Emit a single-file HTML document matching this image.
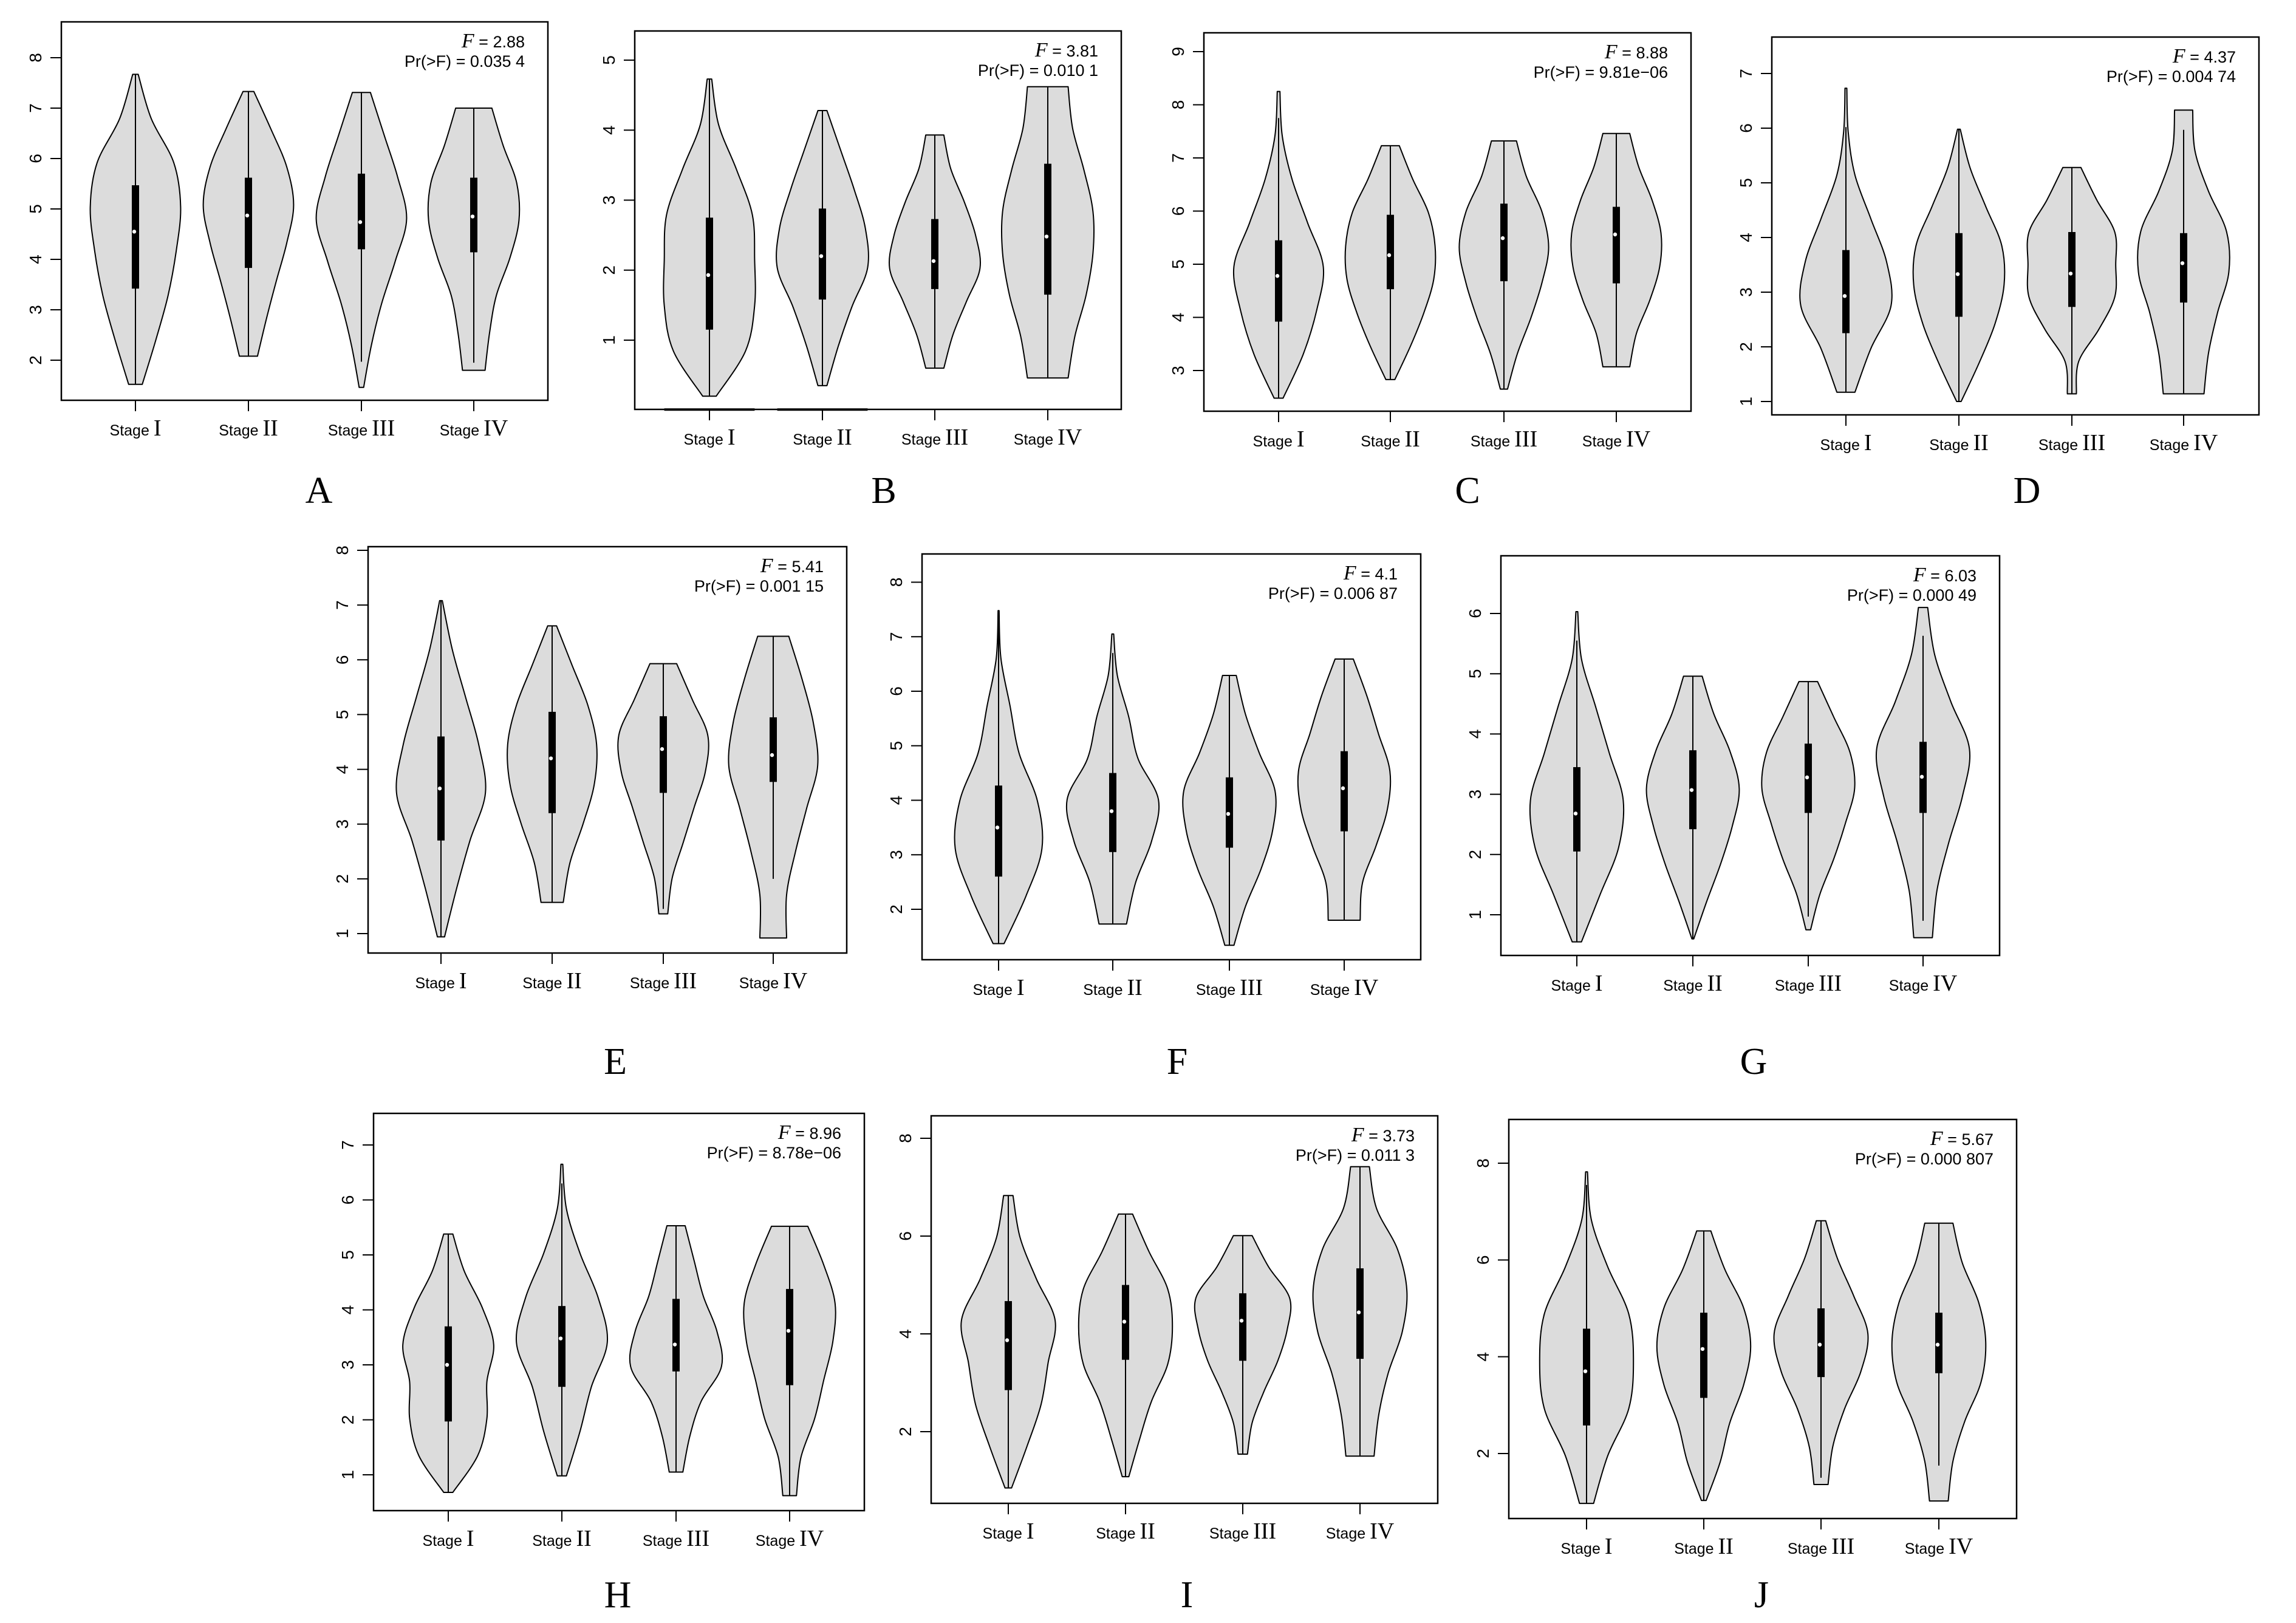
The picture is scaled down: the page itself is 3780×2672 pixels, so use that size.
<!DOCTYPE html>
<html>
<head>
<meta charset="utf-8">
<style>
  html, body { margin: 0; padding: 0; background: #ffffff; }
  svg { display: block; }
  .sans { font-family: "Liberation Sans", Arial, sans-serif; }
  .serif { font-family: "Liberation Serif", "Times New Roman", serif; }
</style>
</head>
<body>
<svg id="fig" xmlns="http://www.w3.org/2000/svg" width="3780" height="2672" viewBox="0 0 3780 2672"></svg>
<script>
// ---------- Data ----------
const panelLetters = ["A","B","C","D","E","F","G","H","I","J"];
const stageNames = ["I","II","III","IV"];
const fValues = ["2.88","3.81","8.88","4.37","5.41","4.1","6.03","8.96","3.73","5.67"];
const pValues = ["0.035 4","0.010 1","9.81e\u221206","0.004 74","0.001 15","0.006 87","0.000 49","8.78e\u221206","0.011 3","0.000 807"];
const tickLabels = [
  [2,3,4,5,6,7,8],[1,2,3,4,5],[3,4,5,6,7,8,9],[1,2,3,4,5,6,7],[1,2,3,4,5,6,7,8],
  [2,3,4,5,6,7,8],[1,2,3,4,5,6],[1,2,3,4,5,6,7],[2,4,6,8],[2,4,6,8]
];
const mins = [
  [1.52,2.08,1.46,1.8],[0.2,0.35,0.6,0.46],[2.48,2.83,2.65,3.07],[1.17,1.0,1.14,1.14],[0.94,1.57,1.36,0.92],
  [1.37,1.73,1.34,1.8],[0.55,0.6,0.75,0.62],[0.68,0.98,1.05,0.62],[0.85,1.08,1.54,1.5],[0.97,1.03,1.36,1.02]
];
const maxs = [
  [7.67,7.33,7.31,7.0],[4.73,4.28,3.93,4.62],[8.25,7.23,7.32,7.46],[6.73,5.98,5.28,6.33],[7.08,6.62,5.93,6.43],
  [7.48,7.05,6.29,6.59],[6.03,4.96,4.87,6.1],[5.38,6.65,5.53,5.52],[6.83,6.45,6.01,7.42],[7.82,6.6,6.81,6.76]
];
const q1s = [
  [3.42,3.83,4.2,4.14],[1.15,1.58,1.73,1.65],[3.92,4.53,4.68,4.64],[2.25,2.55,2.73,2.81],[2.7,3.2,3.57,3.77],
  [2.6,3.05,3.13,3.43],[2.05,2.42,2.69,2.69],[1.97,2.6,2.88,2.63],[2.85,3.47,3.45,3.49],[2.58,3.15,3.58,3.66]
];
const q3s = [
  [5.47,5.62,5.7,5.62],[2.75,2.88,2.73,3.52],[5.45,5.93,6.14,6.08],[3.77,4.08,4.1,4.08],[4.6,5.05,4.97,4.95],
  [4.27,4.5,4.42,4.9],[3.45,3.73,3.84,3.87],[3.7,4.07,4.2,4.38],[4.67,5.0,4.83,5.34],[4.58,4.91,5.0,4.91]
];
const medians = [
  [4.55,4.87,4.74,4.85],[1.93,2.2,2.13,2.48],[4.78,5.17,5.49,5.56],[2.93,3.33,3.34,3.53],[3.65,4.2,4.37,4.26],
  [3.5,3.8,3.75,4.22],[2.68,3.07,3.28,3.29],[3.0,3.48,3.37,3.62],[3.87,4.25,4.27,4.44],[3.7,4.16,4.25,4.25]
];
const whiskerLo = [
  [1.52,2.08,1.97,1.95],[0.2,0.35,0.6,0.46],[2.48,2.83,2.65,3.07],[1.17,1.0,1.14,1.14],[0.94,1.57,1.45,2.0],
  [1.37,1.73,1.34,1.8],[0.55,0.6,0.97,0.9],[0.68,0.98,1.05,0.62],[0.85,1.08,1.54,1.5],[0.97,1.03,1.5,1.75]
];
const whiskerHi = [
  [7.67,7.33,7.31,7.0],[4.73,4.28,3.93,4.62],[7.75,7.23,7.32,7.46],[6.02,5.98,5.28,5.97],[7.08,6.62,5.93,6.43],
  [7.48,6.7,6.29,6.59],[5.55,4.96,4.87,5.63],[5.38,6.3,5.53,5.52],[6.83,6.45,6.01,7.42],[7.55,6.6,6.81,6.76]
];
// relative density widths at 8 evenly spaced levels from min to max
const profiles = [
  [[0.15,0.45,0.72,0.9,1.0,0.85,0.35,0.06],[0.2,0.4,0.62,0.85,1.0,0.85,0.5,0.12],[0.05,0.22,0.45,0.75,1.0,0.8,0.5,0.2],[0.25,0.35,0.5,0.8,1.0,0.95,0.65,0.4]],
  [[0.15,0.8,1.0,1.0,0.95,0.6,0.2,0.05],[0.1,0.35,0.65,1.0,0.95,0.7,0.4,0.1],[0.2,0.4,0.7,1.0,0.9,0.65,0.35,0.2],[0.45,0.6,0.85,1.0,1.0,0.8,0.55,0.45]],
  [[0.1,0.55,0.85,1.0,0.65,0.3,0.08,0.03],[0.1,0.45,0.75,0.97,1.0,0.85,0.5,0.2],[0.08,0.3,0.6,0.85,1.0,0.85,0.5,0.28],[0.3,0.45,0.75,0.97,1.0,0.8,0.5,0.3]],
  [[0.2,0.55,1.0,0.9,0.55,0.2,0.05,0.02],[0.05,0.45,0.8,1.0,0.95,0.6,0.25,0.03],[0.1,0.15,0.6,0.95,0.97,0.95,0.55,0.2],[0.45,0.55,0.75,1.0,0.95,0.55,0.25,0.2]],
  [[0.08,0.35,0.65,1.0,0.85,0.55,0.25,0.03],[0.25,0.4,0.7,0.95,1.0,0.8,0.45,0.1],[0.1,0.2,0.45,0.7,0.95,1.0,0.65,0.3],[0.3,0.3,0.5,0.75,1.0,0.9,0.65,0.35]],
  [[0.12,0.6,0.95,0.85,0.45,0.25,0.05,0.01],[0.3,0.5,0.85,1.0,0.55,0.35,0.1,0.02],[0.1,0.35,0.7,0.95,1.0,0.65,0.35,0.15],[0.35,0.4,0.7,0.95,1.0,0.75,0.5,0.2]],
  [[0.1,0.5,0.9,1.0,0.7,0.4,0.1,0.02],[0.02,0.3,0.6,0.85,1.0,0.8,0.45,0.2],[0.05,0.25,0.55,0.8,1.0,0.9,0.55,0.2],[0.2,0.3,0.55,0.85,1.0,0.6,0.25,0.1]],
  [[0.1,0.65,0.85,0.85,1.0,0.75,0.35,0.1],[0.1,0.4,0.65,1.0,0.8,0.4,0.1,0.02],[0.15,0.3,0.55,1.0,0.9,0.6,0.4,0.2],[0.15,0.25,0.55,0.75,0.95,1.0,0.75,0.4]],
  [[0.07,0.4,0.7,0.85,1.0,0.6,0.25,0.1],[0.07,0.3,0.55,0.9,1.0,0.9,0.5,0.15],[0.1,0.2,0.45,0.75,0.95,1.0,0.55,0.2],[0.3,0.4,0.6,0.9,1.0,0.8,0.35,0.2]],
  [[0.15,0.45,0.9,1.0,0.9,0.45,0.1,0.02],[0.05,0.35,0.55,0.85,1.0,0.85,0.45,0.15],[0.15,0.25,0.5,0.85,1.0,0.7,0.35,0.1],[0.2,0.3,0.55,0.9,1.0,0.85,0.5,0.3]]
];
// panel B: degenerate zero-valued groups drawn as flat lines at 0
const zeroLineStages = [[],[0,1],[],[],[],[],[],[],[],[]];

// ---------- Layout (pixel geometry, not data) ----------
const layout = [
  {L:101,T:36,R:902,B:659, v0:8,p0:95, v1:2,p1:593, sx:[223,409,595,780], lx:525, ly:828},
  {L:1045,T:51,R:1846,B:674, v0:5,p0:99, v1:1,p1:560, sx:[1168,1354,1539,1725], lx:1455, ly:828},
  {L:1982,T:54,R:2784,B:677, v0:9,p0:85, v1:3,p1:610, sx:[2105,2289,2476,2661], lx:2416, ly:828},
  {L:2917,T:61,R:3719,B:683, v0:7,p0:121, v1:1,p1:661, sx:[3039,3225,3411,3595], lx:3337, ly:828},
  {L:606,T:900,R:1394,B:1569, v0:8,p0:906, v1:1,p1:1537, sx:[726,909,1092,1273], lx:1013, ly:1768},
  {L:1518,T:912,R:2339,B:1580, v0:8,p0:958.5, v1:2,p1:1497, sx:[1644,1832,2024,2213], lx:1938, ly:1768},
  {L:2471,T:915,R:3292,B:1573, v0:6,p0:1010, v1:1,p1:1506, sx:[2596,2787,2977,3166], lx:2887, ly:1768},
  {L:615,T:1833,R:1423,B:2487, v0:7,p0:1885, v1:1,p1:2428, sx:[738,925,1113,1300], lx:1017, ly:2646},
  {L:1533,T:1837,R:2367,B:2475, v0:8,p0:1874, v1:2,p1:2357, sx:[1660,1853,2046,2239], lx:1954, ly:2646},
  {L:2484,T:1843,R:3320,B:2500, v0:8,p0:1915, v1:2,p1:2393, sx:[2612,2805,2998,3192], lx:2900, ly:2646}
];

const NS = "http://www.w3.org/2000/svg";
const svg = document.getElementById("fig");
function mk(tag, attrs, parent) {
  const e = document.createElementNS(NS, tag);
  for (const k in attrs) e.setAttribute(k, attrs[k]);
  (parent || svg).appendChild(e);
  return e;
}
function smoothPath(pts) {
  // Catmull-Rom to cubic bezier, continuing an existing path
  let d = "";
  for (let i = 0; i < pts.length - 1; i++) {
    const p0 = pts[i - 1] || pts[i], p1 = pts[i], p2 = pts[i + 1], p3 = pts[i + 2] || pts[i + 1];
    const c1x = p1[0] + (p2[0] - p0[0]) / 6, c1y = p1[1] + (p2[1] - p0[1]) / 6;
    const c2x = p2[0] - (p3[0] - p1[0]) / 6, c2y = p2[1] - (p3[1] - p1[1]) / 6;
    d += ` C${c1x.toFixed(1)},${c1y.toFixed(1)} ${c2x.toFixed(1)},${c2y.toFixed(1)} ${p2[0].toFixed(1)},${p2[1].toFixed(1)}`;
  }
  return d;
}

layout.forEach((g, pi) => {
  const yScale = v => g.p0 + (v - g.v0) * (g.p1 - g.p0) / (g.v1 - g.v0);
  const spacing = g.sx[1] - g.sx[0];
  const hw = 0.4 * spacing;

  const grp = mk("g", {});
  
  

  // y ticks + labels
  tickLabels[pi].forEach(t => {
    const y = yScale(t);
    const tk = mk("line", {x1:g.L-18, x2:g.L, y1:y, y2:y, stroke:"#000", "stroke-width":2}, grp);
    
    
    const tx = mk("text", {transform:`translate(${g.L-33},${y}) rotate(-90)`, "text-anchor":"middle", "font-size":28, class:"sans", fill:"#000"}, grp);
    tx.textContent = String(t);
    
    
  });

  // zero lines (panel B)
  zeroLineStages[pi].forEach(si => {
    const cx = g.sx[si], y = yScale(0);
    const zl = mk("line", {x1:cx-hw, x2:cx+hw, y1:y-1, y2:y-1, stroke:"#000", "stroke-width":4}, grp);
    
    
  });

  // violins
  for (let si = 0; si < 4; si++) {
    const cx = g.sx[si];
    const mn = mins[pi][si], mx = maxs[pi][si], prof = profiles[pi][si];
    const n = prof.length;
    const right = [], left = [];
    for (let k = 0; k < n; k++) {
      const v = mn + (mx - mn) * k / (n - 1);
      right.push([cx + prof[k] * hw, yScale(v)]);
    }
    for (let k = n - 1; k >= 0; k--) {
      const v = mn + (mx - mn) * k / (n - 1);
      left.push([cx - prof[k] * hw, yScale(v)]);
    }
    let d = `M${cx.toFixed(1)},${yScale(mn).toFixed(1)} L${right[0][0].toFixed(1)},${right[0][1].toFixed(1)}`;
    d += smoothPath(right);
    d += ` L${left[0][0].toFixed(1)},${left[0][1].toFixed(1)}`;
    d += smoothPath(left);
    d += " Z";
    const vp = mk("path", {d:d, fill:"#dcdcdc", stroke:"#000", "stroke-width":2, "stroke-linejoin":"round"}, grp);
    
    

    const wk = mk("line", {x1:cx, x2:cx, y1:yScale(whiskerLo[pi][si]), y2:yScale(whiskerHi[pi][si]), stroke:"#000", "stroke-width":2}, grp);
    
    

    const yq3 = yScale(q3s[pi][si]), yq1 = yScale(q1s[pi][si]);
    const bx = mk("rect", {x:cx-6, y:yq3, width:12, height:yq1-yq3, fill:"#000"}, grp);
    
    

    const md = mk("circle", {cx:cx-2, cy:yScale(medians[pi][si]), r:3.2, fill:"#fff"}, grp);
    
    

    // x tick & label
    const xt = mk("line", {x1:cx, x2:cx, y1:g.B, y2:g.B+18, stroke:"#000", "stroke-width":2}, grp);
    
    
    const lab = mk("text", {x:cx, y:g.B+58, "text-anchor":"middle", fill:"#000"}, grp);
    
    
    const t1 = mk("tspan", {class:"sans", "font-size":25}, lab);
    t1.textContent = "Stage ";
    const t2 = mk("tspan", {class:"serif", "font-size":38}, lab);
    t2.textContent = stageNames[si];
  }

  // plot frame
  const fr = mk("rect", {x:g.L, y:g.T, width:g.R-g.L, height:g.B-g.T, fill:"none", stroke:"#000", "stroke-width":2.5}, grp);
  
  

  // stats annotation
  const fl = mk("text", {x:g.R-38, y:g.T+42, "text-anchor":"end", fill:"#000"}, grp);
  
  
  const f1 = mk("tspan", {class:"serif", "font-size":34, "font-style":"italic"}, fl);
  f1.textContent = "F";
  const f2 = mk("tspan", {class:"sans", "font-size":27}, fl);
  f2.textContent = " = " + fValues[pi];
  const pl = mk("text", {x:g.R-38, y:g.T+74, "text-anchor":"end", class:"sans", "font-size":27, fill:"#000"}, grp);
  pl.textContent = "Pr(>F) = " + pValues[pi];
  
  

  // panel letter
  const lt = mk("text", {x:g.lx, y:g.ly, "text-anchor":"middle", class:"serif", "font-size":62, fill:"#000"}, grp);
  lt.textContent = panelLetters[pi];
  
  
});
</script>
</body>
</html>
